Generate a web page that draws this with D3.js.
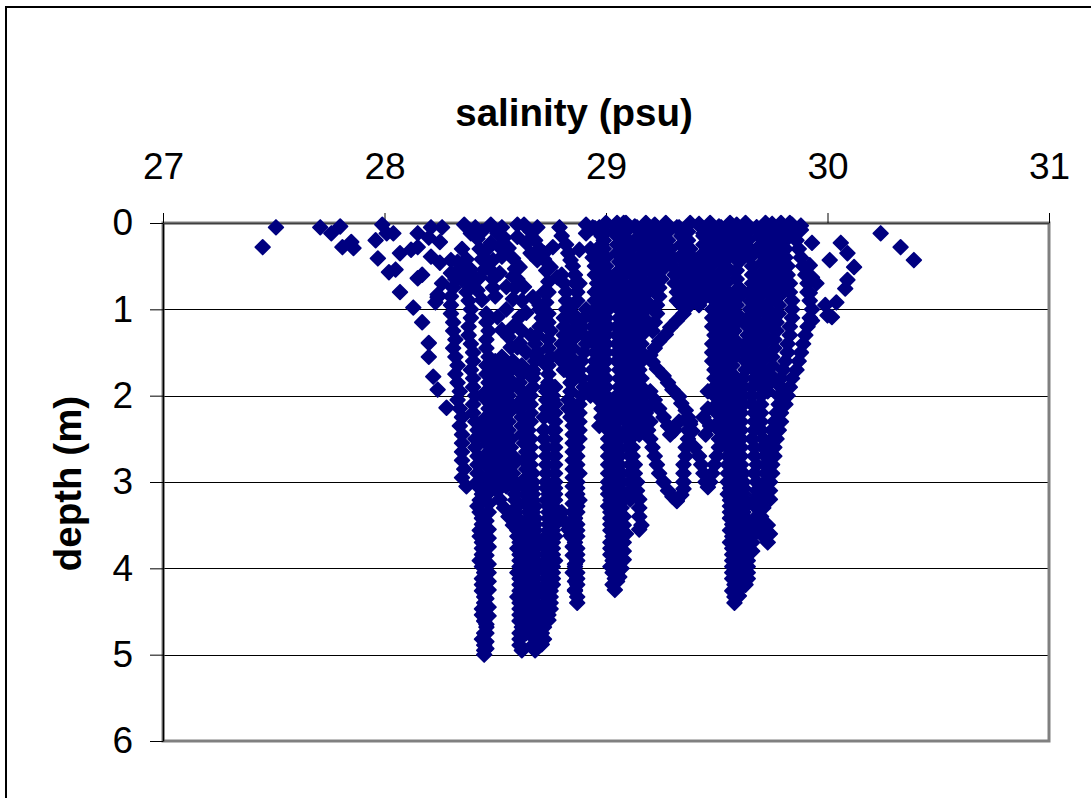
<!DOCTYPE html>
<html><head><meta charset="utf-8">
<script src="https://cdn.jsdelivr.net/npm/d3@7"></script>
<style>html,body{margin:0;padding:0;background:#fff;}svg{display:block;}</style>
</head><body>
<script>
const xTitle = "salinity (psu)";
const yTitle = "depth (m)";
const xTicks = [27, 28, 29, 30, 31];
const yTicks = [0, 1, 2, 3, 4, 5, 6];
const gridDepths = [1, 2, 3, 4, 5];

// [salinity, depth] readings, grouped by profile
const scatterLeft = [[27.45,0.28],[27.51,0.05],[27.71,0.05],[27.76,0.12],[27.80,0.04],[27.81,0.28],[27.85,0.22],[27.86,0.29],[27.96,0.2],[27.97,0.41],[27.99,0.02],[28.01,0.12],[28.04,0.12],[28.07,0.35],[28.02,0.57],[28.05,0.54],[28.07,0.8],[28.12,0.31],[28.15,0.12],[28.15,0.28],[28.15,0.64],[28.17,0.6],[28.13,0.98],[28.17,1.15],[28.20,0.17],[28.21,0.39],[28.2,1.39],[28.2,1.55],[28.22,1.78],[28.24,1.93],[28.28,2.14],[28.24,0.83],[28.23,0.92],[28.21,0.05],[28.26,0.05],[28.25,0.46],[28.3,0.43],[28.25,0.22],[28.36,0.02]];
const scatterMid = [[28.39,0.12],[28.44,0.1],[28.48,0.02],[28.51,0.12],[28.48,0.23],[28.52,0.28],[28.53,0.39],[28.49,0.43],[28.46,0.31],[28.60,0.02],[28.63,0.02],[28.60,0.16],[28.64,0.23],[28.69,0.05],[28.66,0.35],[28.69,0.43],[28.76,0.28],[28.72,0.35],[28.75,0.51],[28.78,0.63],[28.84,0.43],[28.88,0.31],[28.91,0.12],[28.94,0.05],[28.88,0.7],[28.52,0.58],[28.55,0.74],[28.61,0.51],[28.63,0.74],[28.67,0.86],[28.64,1.04],[28.51,1.09],[28.53,1.24],[28.61,1.09],[28.39,0.54],[28.35,0.66],[28.33,0.63],[28.43,0.63],[28.42,0.78],[28.44,0.89],[28.39,0.7],[28.30,0.58],[28.26,0.7],[28.24,0.86],[28.57,1.44],[28.60,1.44],[28.55,1.62],[28.61,1.39],[28.69,1.55],[28.72,1.62],[28.67,1.74],[28.63,2.02],[28.57,1.9],[28.53,2.05],[28.51,2.2],[28.73,1.9],[28.76,2.05],[28.76,2.2],[28.76,2.4],[28.35,0.3],[28.37,0.42],[28.33,0.45],[28.36,0.52],[28.55,1.0],[28.58,1.2],[28.62,1.25],[28.66,1.3],[28.56,1.32],[28.64,1.5],[28.70,0.95],[28.72,0.8],[28.62,0.9],[28.47,0.45],[28.48,0.55],[28.49,0.65],[28.49,0.75],[28.50,0.85],[28.58,0.62],[28.59,0.75],[28.58,0.88]];
const surfaceRow = [[28.91,0.02],[28.95,0.06],[29.05,0.0],[29.13,0.04],[29.22,0.02],[29.32,0.05],[29.42,0.01],[29.51,0.04],[29.59,0.02],[29.68,0.05],[29.75,0.01],[29.88,0.03],[29.86,0.1],[29.04,0.12],[29.24,0.15],[29.44,0.12],[29.6,0.13]];
const scatterRight = [[29.84,0.02],[29.88,0.08],[29.93,0.23],[30.01,0.43],[30.06,0.23],[30.09,0.35],[30.12,0.51],[30.09,0.66],[30.08,0.76],[30.04,0.92],[29.99,0.95],[30.0,1.07],[29.92,0.49],[29.93,0.63],[29.95,0.7],[29.92,0.81],[29.81,0.2],[29.73,0.12],[30.24,0.12],[30.33,0.28],[30.39,0.43],[29.93,1.13],[30.02,1.09]];
const castL1 = [[28.41,0.05],[28.42,0.18],[28.43,0.3],[28.44,0.42],[28.45,0.54]];
const castL2 = [[28.53,0.05],[28.54,0.17],[28.56,0.29],[28.58,0.41],[28.59,0.53],[28.60,0.65]];
const castL3 = [[28.66,0.1],[28.68,0.2],[28.70,0.3],[28.72,0.42],[28.73,0.55],[28.74,0.68],[28.74,0.8],[28.73,0.92]];
const castL4 = [[28.79,0.05],[28.80,0.15],[28.82,0.25],[28.83,0.35],[28.85,0.5],[28.86,0.6],[28.86,0.7],[28.87,0.8],[28.87,0.9]];
const castB1 = [[28.33,0.55],[28.32,0.65],[28.31,0.75],[28.30,0.85],[28.30,0.95],[28.30,1.05],[28.31,1.15],[28.31,1.25],[28.32,1.35],[28.31,1.45],[28.32,1.55],[28.33,1.65],[28.32,1.75],[28.33,1.85],[28.34,1.95],[28.33,2.05],[28.34,2.15],[28.35,2.25],[28.34,2.35],[28.35,2.45],[28.35,2.55],[28.35,2.65],[28.35,2.75],[28.36,2.85],[28.35,2.95],[28.37,3.05]];
const castB2 = [[28.39,0.6],[28.38,0.7],[28.37,0.8],[28.38,0.9],[28.39,1.0],[28.39,1.1],[28.38,1.2],[28.38,1.3],[28.39,1.4],[28.40,1.5],[28.40,1.6],[28.39,1.7],[28.40,1.8],[28.40,1.9],[28.41,2.0],[28.40,2.1],[28.40,2.2],[28.41,2.3],[28.42,2.4],[28.41,2.5],[28.41,2.6],[28.42,2.7],[28.42,2.8],[28.42,2.9],[28.42,3.0],[28.43,3.07],[28.44,3.14],[28.43,3.21],[28.42,3.28],[28.43,3.35],[28.44,3.42],[28.44,3.49],[28.43,3.56],[28.43,3.63],[28.44,3.7],[28.44,3.77],[28.44,3.84],[28.43,3.91],[28.44,3.98],[28.45,4.05],[28.44,4.12],[28.44,4.19],[28.44,4.26],[28.45,4.33],[28.45,4.4],[28.44,4.47],[28.44,4.54],[28.45,4.61],[28.46,4.68],[28.45,4.75],[28.44,4.82],[28.45,4.89],[28.45,4.95],[28.45,5.0]];
const castB3 = [[28.46,2.55],[28.47,2.65],[28.46,2.75],[28.47,2.85],[28.47,2.95],[28.47,3.05],[28.46,3.15],[28.47,3.25],[28.47,3.35],[28.46,3.45],[28.47,3.55],[28.47,3.65],[28.47,3.75],[28.46,3.85],[28.47,3.95],[28.47,4.05],[28.47,4.15],[28.47,4.25],[28.46,4.35],[28.47,4.45],[28.47,4.55],[28.46,4.65],[28.46,4.75],[28.46,4.85],[28.46,4.93]];
const castN1 = [[28.46,1.05],[28.46,1.15],[28.47,1.25],[28.46,1.35],[28.46,1.45],[28.47,1.55],[28.46,1.65],[28.46,1.75],[28.47,1.85],[28.46,1.95],[28.46,2.05],[28.47,2.15],[28.46,2.25],[28.46,2.35],[28.46,2.45]];
const castC = [[28.50,1.6],[28.49,1.7],[28.50,1.8],[28.51,1.9],[28.50,2.0],[28.51,2.1]];
const castD = [[28.51,2.2],[28.50,2.3],[28.50,2.4],[28.49,2.5],[28.49,2.6],[28.49,2.7],[28.49,2.8],[28.49,2.9],[28.50,3.0],[28.51,3.1],[28.52,3.2],[28.54,3.3],[28.56,3.4],[28.58,3.5]];
const castN2 = [[28.53,1.55],[28.54,1.65],[28.53,1.75],[28.53,1.85],[28.54,1.95],[28.53,2.05],[28.53,2.15],[28.54,2.25],[28.53,2.35],[28.53,2.45],[28.54,2.55],[28.53,2.65],[28.53,2.75],[28.54,2.85],[28.54,2.95],[28.55,3.05]];
const castE1 = [[28.58,1.6],[28.57,1.7],[28.56,1.8],[28.56,1.9],[28.56,2.0],[28.57,2.1],[28.56,2.2],[28.56,2.3],[28.56,2.4],[28.57,2.5],[28.57,2.6],[28.58,2.7],[28.58,2.8],[28.58,2.9],[28.59,3.0],[28.59,3.07],[28.59,3.14],[28.59,3.21],[28.60,3.28],[28.59,3.35],[28.60,3.42],[28.60,3.49],[28.60,3.56],[28.60,3.63],[28.61,3.7],[28.60,3.77],[28.61,3.84],[28.61,3.91],[28.61,3.98],[28.60,4.05],[28.61,4.12],[28.61,4.19],[28.61,4.26],[28.60,4.33],[28.61,4.4],[28.61,4.47],[28.61,4.54],[28.61,4.61],[28.62,4.68],[28.61,4.75],[28.61,4.82],[28.61,4.89],[28.62,4.95]];
const castN4 = [[28.62,1.65],[28.62,1.75],[28.61,1.85],[28.62,1.95],[28.62,2.05],[28.61,2.15],[28.62,2.25],[28.62,2.35],[28.62,2.45]];
const castE5 = [[28.63,2.55],[28.64,2.65],[28.63,2.75],[28.64,2.85],[28.64,2.95],[28.63,3.05],[28.64,3.15],[28.64,3.25],[28.65,3.35],[28.64,3.45],[28.64,3.55],[28.65,3.65],[28.64,3.75],[28.64,3.85],[28.65,3.95],[28.64,4.05],[28.64,4.15],[28.65,4.25],[28.64,4.35],[28.64,4.45],[28.65,4.55],[28.64,4.65],[28.64,4.75]];
const castE2 = [[28.70,1.0],[28.71,1.1],[28.70,1.2],[28.69,1.3],[28.68,1.4],[28.69,1.5],[28.68,1.6],[28.67,1.7],[28.67,1.8],[28.67,1.9],[28.66,2.0],[28.66,2.1],[28.66,2.2],[28.66,2.3],[28.65,2.4],[28.66,2.5],[28.66,2.6],[28.66,2.7],[28.66,2.8],[28.67,2.9],[28.67,3.0],[28.67,3.07],[28.67,3.14],[28.67,3.21],[28.68,3.28],[28.67,3.35],[28.68,3.42],[28.68,3.49],[28.68,3.56],[28.68,3.63],[28.69,3.7],[28.68,3.77],[28.68,3.84],[28.68,3.91],[28.69,3.98],[28.68,4.05],[28.68,4.12],[28.68,4.19],[28.69,4.26],[28.68,4.33],[28.68,4.4],[28.68,4.47],[28.68,4.54],[28.67,4.61],[28.68,4.68],[28.68,4.75],[28.68,4.82],[28.67,4.89],[28.68,4.95]];
const castN3 = [[28.74,1.05],[28.74,1.15],[28.75,1.25],[28.74,1.35],[28.74,1.45],[28.75,1.55],[28.74,1.65],[28.74,1.75],[28.74,1.85],[28.73,1.95],[28.73,2.05],[28.73,2.15],[28.72,2.25]];
const castE3 = [[28.72,2.4],[28.72,2.5],[28.73,2.6],[28.73,2.7],[28.73,2.8],[28.73,2.9],[28.73,3.0],[28.73,3.07],[28.74,3.14],[28.73,3.21],[28.74,3.28],[28.74,3.35],[28.74,3.42],[28.74,3.49],[28.74,3.56],[28.73,3.63],[28.74,3.7],[28.73,3.77],[28.73,3.84],[28.73,3.91],[28.73,3.98],[28.73,4.05],[28.73,4.12],[28.73,4.19],[28.73,4.26],[28.73,4.33],[28.73,4.4],[28.72,4.47],[28.72,4.54],[28.72,4.61],[28.72,4.68],[28.71,4.75],[28.72,4.82],[28.71,4.88]];
const castE4 = [[28.77,1.9],[28.76,2.0],[28.77,2.1],[28.77,2.2],[28.77,2.3],[28.77,2.4],[28.77,2.5],[28.77,2.6],[28.77,2.7],[28.77,2.8],[28.77,2.9],[28.77,3.0],[28.77,3.07],[28.77,3.14],[28.77,3.21],[28.76,3.28],[28.77,3.35],[28.77,3.42],[28.77,3.49],[28.76,3.56],[28.77,3.63],[28.76,3.7],[28.76,3.77],[28.76,3.84],[28.77,3.91],[28.76,3.98],[28.76,4.05],[28.76,4.12],[28.76,4.19],[28.75,4.26],[28.75,4.33],[28.75,4.4],[28.75,4.47],[28.74,4.54],[28.74,4.6]];
const castG1 = [[28.91,1.0],[28.90,1.1],[28.89,1.2],[28.90,1.3],[28.91,1.4],[28.90,1.5],[28.89,1.6],[28.88,1.7],[28.89,1.8],[28.90,1.9],[28.89,2.0],[28.88,2.1],[28.88,2.2],[28.88,2.3],[28.88,2.4],[28.88,2.5],[28.87,2.6],[28.87,2.7],[28.87,2.8],[28.88,2.9],[28.87,3.0],[28.87,3.07],[28.87,3.14],[28.88,3.21],[28.87,3.28],[28.87,3.35],[28.86,3.42],[28.87,3.49],[28.87,3.56],[28.87,3.63],[28.86,3.7],[28.87,3.77],[28.87,3.84],[28.87,3.91],[28.86,3.98],[28.87,4.05],[28.87,4.12],[28.87,4.19],[28.86,4.26],[28.87,4.33],[28.87,4.4]];
const castG3 = [[28.85,2.35],[28.85,2.45],[28.85,2.55],[28.85,2.65],[28.85,2.75],[28.85,2.85],[28.85,2.95],[28.85,3.05],[28.85,3.15],[28.85,3.25],[28.85,3.35],[28.85,3.45],[28.85,3.55],[28.85,3.65],[28.85,3.75],[28.85,3.85],[28.86,3.95],[28.85,4.05],[28.86,4.15],[28.86,4.25]];
const castG2 = [[28.80,3.35],[28.81,3.45],[28.83,3.55],[28.84,3.62]];
const castK1 = [[28.93,0.3],[28.94,0.4],[28.95,0.5],[28.95,0.6],[28.96,0.7],[28.95,0.8],[28.95,0.9],[28.95,1.0],[28.94,1.1],[28.94,1.2],[28.94,1.3],[28.95,1.4],[28.95,1.5],[28.95,1.6],[28.94,1.7],[28.94,1.8],[28.93,1.9],[28.93,2.0]];
const castK4 = [[28.97,0.05],[28.98,0.15],[28.98,0.25],[28.97,0.35],[28.98,0.45],[28.98,0.55],[28.97,0.65],[28.97,0.75],[28.98,0.85],[28.98,0.95],[28.97,1.05],[28.97,1.15],[28.98,1.25],[28.98,1.35],[28.97,1.45],[28.97,1.55],[28.97,1.65],[28.98,1.75],[28.97,1.85],[28.97,1.95],[28.97,2.05],[28.98,2.15],[28.98,2.25],[28.97,2.35]];
const castK2 = [[28.80,0.6],[28.81,0.7],[28.82,0.8],[28.82,0.9],[28.82,1.0],[28.81,1.1],[28.81,1.2],[28.81,1.3],[28.80,1.4],[28.80,1.5],[28.80,1.6],[28.81,1.7]];
const castK3 = [[28.85,0.95],[28.85,1.05],[28.86,1.15],[28.86,1.25],[28.85,1.35],[28.85,1.45],[28.84,1.55],[28.84,1.65],[28.84,1.75],[28.84,1.85],[28.84,1.95],[28.83,2.05],[28.83,2.15],[28.84,2.25]];
const castH1 = [[29.00,0.0],[28.99,0.1],[28.99,0.2],[28.99,0.3],[29.00,0.4],[29.00,0.5],[29.01,0.6],[29.00,0.7],[29.01,0.8],[29.01,0.9],[29.01,1.0],[29.00,1.1],[29.01,1.2],[29.00,1.3],[29.00,1.4],[29.00,1.5],[29.00,1.6],[28.99,1.7],[29.00,1.8],[29.00,1.9],[29.00,2.0],[29.00,2.1],[29.01,2.2],[29.00,2.3],[29.01,2.4],[29.01,2.5],[29.01,2.6],[29.01,2.7],[29.01,2.8],[29.01,2.9],[29.01,3.0],[29.01,3.07],[29.01,3.14],[29.02,3.21],[29.01,3.28],[29.02,3.35],[29.02,3.42],[29.02,3.49],[29.02,3.56],[29.03,3.63],[29.02,3.7],[29.02,3.77],[29.02,3.84],[29.03,3.91],[29.02,3.98],[29.03,4.05],[29.04,4.12],[29.03,4.19],[29.04,4.25]];
const castH5 = [[29.04,0.05],[29.05,0.15],[29.05,0.25],[29.05,0.35],[29.06,0.45],[29.06,0.55],[29.05,0.65],[29.05,0.75],[29.05,0.85],[29.04,0.95]];
const castH4 = [[29.03,2.05],[29.04,2.15],[29.04,2.25],[29.03,2.35],[29.04,2.45],[29.04,2.55],[29.05,2.65],[29.04,2.75],[29.04,2.85],[29.05,2.95],[29.05,3.05],[29.04,3.15],[29.05,3.25],[29.05,3.35],[29.05,3.45],[29.05,3.55],[29.06,3.65],[29.05,3.75],[29.05,3.85],[29.05,3.95],[29.05,4.05],[29.05,4.15]];
const castH7 = [[29.08,0.0],[29.07,0.1],[29.08,0.2],[29.08,0.3],[29.08,0.4],[29.09,0.5],[29.08,0.6],[29.08,0.7],[29.07,0.8],[29.08,0.9],[29.08,1.0],[29.07,1.1],[29.08,1.2],[29.08,1.3],[29.07,1.4],[29.07,1.5],[29.08,1.6],[29.08,1.7],[29.07,1.8],[29.07,1.9],[29.08,2.0],[29.08,2.1],[29.08,2.2],[29.09,2.3],[29.09,2.4],[29.10,2.5],[29.10,2.6],[29.11,2.7],[29.11,2.8],[29.11,2.9],[29.11,3.0],[29.11,3.1],[29.11,3.2]];
const castH2 = [[29.09,0.0],[29.09,0.1],[29.10,0.2],[29.11,0.3],[29.11,0.4],[29.12,0.5],[29.12,0.6],[29.12,0.7],[29.11,0.8],[29.11,0.9],[29.10,1.0],[29.10,1.1],[29.10,1.2],[29.09,1.3],[29.09,1.4],[29.09,1.5],[29.09,1.6],[29.09,1.7],[29.09,1.8],[29.09,1.9],[29.09,2.0],[29.09,2.1],[29.10,2.2],[29.10,2.3],[29.11,2.4],[29.11,2.5],[29.12,2.6],[29.12,2.7],[29.13,2.8],[29.13,2.9],[29.14,3.0],[29.14,3.1],[29.15,3.2],[29.15,3.3],[29.15,3.4],[29.16,3.5],[29.15,3.55]];
const castH3 = [[29.06,1.0],[29.06,1.1],[29.05,1.2],[29.05,1.3],[29.05,1.4],[29.05,1.5],[29.05,1.6],[29.06,1.7],[29.06,1.8],[29.06,1.9],[29.05,2.0],[29.05,2.1],[29.05,2.2],[29.05,2.3],[29.05,2.4],[29.06,2.5],[29.06,2.6],[29.06,2.7],[29.06,2.8],[29.07,2.9],[29.07,3.0],[29.07,3.1],[29.08,3.2],[29.07,3.3],[29.08,3.4],[29.08,3.5],[29.09,3.6],[29.08,3.7],[29.08,3.8],[29.08,3.9],[29.07,4.0],[29.06,4.1]];
const castH6 = [[29.14,0.05],[29.15,0.15],[29.15,0.25],[29.16,0.35],[29.16,0.45],[29.17,0.55],[29.16,0.65],[29.16,0.75],[29.15,0.85],[29.14,0.95],[29.14,1.05],[29.13,1.15],[29.13,1.25],[29.12,1.35],[29.12,1.45],[29.12,1.55],[29.12,1.65],[29.12,1.75],[29.12,1.85],[29.13,1.95],[29.13,2.05],[29.13,2.15],[29.14,2.25],[29.14,2.35],[29.15,2.45]];
const castU = [[29.18,0.0],[29.19,0.1],[29.19,0.2],[29.20,0.3],[29.21,0.4],[29.21,0.5],[29.21,0.6],[29.20,0.7],[29.19,0.8],[29.18,0.9],[29.18,1.0],[29.17,1.1],[29.17,1.2],[29.16,1.3],[29.16,1.4],[29.16,1.5],[29.16,1.6],[29.15,1.7],[29.16,1.8],[29.16,1.9],[29.17,2.0],[29.17,2.1],[29.18,2.2],[29.18,2.3],[29.19,2.4],[29.20,2.5],[29.21,2.6],[29.22,2.7],[29.23,2.8],[29.24,2.9],[29.26,3.0],[29.28,3.1],[29.30,3.17],[29.32,3.22],[29.34,3.15],[29.35,3.08],[29.35,3.0],[29.35,2.9],[29.35,2.8],[29.36,2.7],[29.36,2.6],[29.37,2.5],[29.37,2.4],[29.38,2.3]];
const castU2 = [[29.22,2.05],[29.24,2.15],[29.26,2.25],[29.28,2.35],[29.29,2.45],[29.31,2.4],[29.33,2.3],[29.20,1.95],[29.19,2.15],[29.20,2.3]];
const castJ1 = [[29.38,0.0],[29.37,0.1],[29.37,0.2],[29.38,0.3],[29.39,0.4],[29.40,0.5],[29.40,0.6],[29.40,0.7],[29.39,0.8],[29.38,0.9],[29.37,0.97],[29.35,1.05],[29.32,1.13],[29.29,1.21],[29.27,1.29],[29.24,1.37],[29.22,1.45],[29.20,1.53],[29.21,1.61],[29.23,1.69],[29.26,1.77],[29.28,1.85],[29.30,1.93],[29.33,2.01],[29.34,2.09],[29.36,2.17],[29.37,2.25],[29.38,2.33],[29.39,2.41]];
const castJ2 = [[29.47,0.0],[29.48,0.1],[29.48,0.2],[29.48,0.3],[29.47,0.4],[29.47,0.5],[29.47,0.6],[29.48,0.7],[29.48,0.8],[29.49,0.9],[29.48,1.0],[29.48,1.1],[29.48,1.2],[29.49,1.3],[29.48,1.4],[29.48,1.5],[29.48,1.6],[29.49,1.7],[29.49,1.8],[29.49,1.9],[29.49,2.0],[29.50,2.1],[29.50,2.2],[29.51,2.3],[29.51,2.4],[29.51,2.5]];
const castJ8 = [[29.52,0.05],[29.52,0.15],[29.51,0.25],[29.51,0.35],[29.52,0.45],[29.52,0.55],[29.51,0.65],[29.51,0.75],[29.52,0.85],[29.52,0.95],[29.51,1.05],[29.52,1.15],[29.52,1.25],[29.51,1.35],[29.51,1.45],[29.52,1.55],[29.52,1.65],[29.51,1.75],[29.52,1.85],[29.52,1.95],[29.52,2.05],[29.53,2.15],[29.53,2.25],[29.53,2.35],[29.53,2.45],[29.53,2.55]];
const castJ9 = [[29.46,0.05],[29.46,0.25],[29.46,0.45],[29.46,0.65],[29.45,0.85],[29.46,1.95],[29.46,2.15],[29.47,2.35],[29.44,2.25],[29.45,2.45]];
const castJ4 = [[29.27,0.0],[29.28,0.1],[29.28,0.2],[29.29,0.3],[29.30,0.4],[29.30,0.5],[29.31,0.6],[29.31,0.7],[29.32,0.8],[29.32,0.9]];
const castJ5 = [[29.43,0.05],[29.44,0.15],[29.44,0.25],[29.44,0.35],[29.43,0.45],[29.44,0.55],[29.44,0.65],[29.43,0.75],[29.43,0.85],[29.42,0.95]];
const castJ6 = [[29.23,0.05],[29.24,0.15],[29.24,0.25],[29.25,0.35],[29.25,0.45],[29.25,0.55],[29.25,0.65],[29.24,0.75],[29.24,0.85],[29.23,0.95],[29.23,1.05],[29.22,1.15],[29.21,1.25]];
const castJ7 = [[29.33,0.05],[29.34,0.15],[29.34,0.25],[29.35,0.35],[29.35,0.45],[29.35,0.55],[29.36,0.65],[29.35,0.75],[29.35,0.85],[29.34,0.95]];
const castV = [[29.40,2.6],[29.42,2.7],[29.43,2.8],[29.44,2.9],[29.45,3.0],[29.46,3.06],[29.47,3.0],[29.48,2.9],[29.49,2.8],[29.50,2.7],[29.51,2.6]];
const castI1 = [[29.56,0.0],[29.56,0.1],[29.55,0.2],[29.55,0.3],[29.55,0.4],[29.54,0.5],[29.54,0.6],[29.54,0.7],[29.55,0.8],[29.55,0.9],[29.55,1.0],[29.55,1.1],[29.55,1.2],[29.55,1.3],[29.54,1.4],[29.54,1.5],[29.54,1.6],[29.53,1.7],[29.53,1.8],[29.54,1.9],[29.54,2.0],[29.54,2.1],[29.54,2.2],[29.54,2.3],[29.54,2.4],[29.55,2.5],[29.55,2.6],[29.55,2.7],[29.55,2.8],[29.55,2.9],[29.55,3.0],[29.56,3.07],[29.55,3.14],[29.56,3.21],[29.56,3.28],[29.56,3.35],[29.56,3.42],[29.57,3.49],[29.56,3.56],[29.57,3.63],[29.56,3.7],[29.57,3.77],[29.57,3.84],[29.57,3.91],[29.57,3.98],[29.57,4.05],[29.57,4.12],[29.58,4.19],[29.57,4.26],[29.58,4.33],[29.58,4.4]];
const castI7 = [[29.59,0.05],[29.59,0.15],[29.60,0.25],[29.60,0.35],[29.60,0.45],[29.59,0.55],[29.59,0.65],[29.60,0.75],[29.60,0.85],[29.59,0.95],[29.59,1.05],[29.59,1.15],[29.58,1.25],[29.58,1.35],[29.58,1.45],[29.58,1.55],[29.57,1.65],[29.57,1.75],[29.58,1.85],[29.58,1.95],[29.58,2.05],[29.58,2.15],[29.58,2.25],[29.58,2.35],[29.58,2.45],[29.59,2.55],[29.59,2.65],[29.59,2.75],[29.59,2.85],[29.59,2.95],[29.59,3.05],[29.60,3.15],[29.60,3.25],[29.60,3.35],[29.60,3.45],[29.60,3.55],[29.60,3.65],[29.60,3.75],[29.60,3.85],[29.60,3.95],[29.60,4.05],[29.61,4.15],[29.60,4.25],[29.60,4.32]];
const castI2 = [[29.63,0.0],[29.64,0.1],[29.64,0.2],[29.65,0.3],[29.65,0.4],[29.66,0.5],[29.66,0.6],[29.66,0.7],[29.65,0.8],[29.65,0.9],[29.65,1.0],[29.64,1.1],[29.64,1.2],[29.64,1.3],[29.63,1.4],[29.63,1.5],[29.63,1.6],[29.63,1.7],[29.62,1.8],[29.62,1.9],[29.62,2.0],[29.62,2.1],[29.61,2.2],[29.61,2.3],[29.61,2.4],[29.61,2.5],[29.61,2.6],[29.61,2.7],[29.61,2.8],[29.62,2.9],[29.62,3.0],[29.62,3.07],[29.62,3.14],[29.62,3.21],[29.63,3.28],[29.62,3.35],[29.63,3.42],[29.63,3.49],[29.63,3.56],[29.63,3.63],[29.64,3.7],[29.63,3.77],[29.64,3.84],[29.64,3.91],[29.64,3.98],[29.64,4.05],[29.64,4.12],[29.63,4.19]];
const castI6 = [[29.67,1.5],[29.66,1.6],[29.67,1.7],[29.67,1.8],[29.66,1.9],[29.66,2.0],[29.66,2.1],[29.67,2.2],[29.67,2.3],[29.67,2.4],[29.66,2.5],[29.67,2.6],[29.67,2.7],[29.68,2.8],[29.67,2.9],[29.68,3.0],[29.68,3.1],[29.67,3.2],[29.68,3.3],[29.68,3.4],[29.67,3.5],[29.67,3.6],[29.66,3.7],[29.66,3.8]];
const castI8 = [[29.68,0.05],[29.69,0.15],[29.70,0.25],[29.70,0.35],[29.71,0.45],[29.71,0.55],[29.70,0.65],[29.70,0.75],[29.69,0.85],[29.69,0.95],[29.68,1.05],[29.68,1.15],[29.68,1.25],[29.67,1.35],[29.67,1.45]];
const castI3 = [[29.72,0.0],[29.73,0.1],[29.74,0.2],[29.74,0.3],[29.75,0.4],[29.75,0.5],[29.75,0.6],[29.74,0.7],[29.74,0.8],[29.74,0.9],[29.73,1.0],[29.73,1.1],[29.72,1.2],[29.72,1.3],[29.71,1.4],[29.71,1.5],[29.70,1.6],[29.70,1.7],[29.70,1.8],[29.70,1.9],[29.70,2.0],[29.70,2.1],[29.70,2.2],[29.70,2.3],[29.70,2.4],[29.71,2.5],[29.71,2.6],[29.72,2.7],[29.72,2.8],[29.72,2.9],[29.72,3.0],[29.71,3.1],[29.71,3.2],[29.71,3.3],[29.70,3.4],[29.70,3.5],[29.70,3.6],[29.73,3.5],[29.74,3.6],[29.73,3.7]];
const castI9 = [[29.76,0.05],[29.77,0.15],[29.78,0.25],[29.78,0.35],[29.79,0.45],[29.79,0.55],[29.79,0.65],[29.79,0.75],[29.78,0.85],[29.78,0.95],[29.78,1.05],[29.77,1.15],[29.77,1.25],[29.76,1.35],[29.76,1.45],[29.75,1.55],[29.75,1.65],[29.74,1.75],[29.74,1.85],[29.73,1.95]];
const castI4 = [[29.83,0.0],[29.84,0.1],[29.86,0.2],[29.87,0.3],[29.88,0.4],[29.89,0.5],[29.90,0.6],[29.91,0.7],[29.91,0.8],[29.92,0.9],[29.93,1.0],[29.92,1.1],[29.91,1.2],[29.90,1.3],[29.89,1.4],[29.88,1.5],[29.87,1.6],[29.86,1.7],[29.84,1.8],[29.83,1.9],[29.82,2.0],[29.81,2.1],[29.79,2.2],[29.79,2.3],[29.78,2.4],[29.77,2.5],[29.76,2.6],[29.76,2.7],[29.75,2.8],[29.75,2.9],[29.74,3.0],[29.74,3.1],[29.74,3.2]];
const castI5 = [[29.79,0.0],[29.80,0.1],[29.80,0.2],[29.81,0.3],[29.81,0.4],[29.82,0.5],[29.82,0.6],[29.83,0.7],[29.83,0.8],[29.84,0.9],[29.84,1.0],[29.84,1.1],[29.83,1.2],[29.83,1.3],[29.82,1.4],[29.82,1.5],[29.81,1.6],[29.80,1.7],[29.79,1.8],[29.79,1.9],[29.78,2.0],[29.78,2.1],[29.77,2.2],[29.76,2.3],[29.75,2.4],[29.75,2.5],[29.74,2.6]];

const series = [scatterLeft, scatterMid, surfaceRow, scatterRight, castL1, castL2, castL3, castL4, castB1, castB2, castB3, castN1, castC, castD, castN2, castE1, castN4, castE5, castE2, castN3, castE3, castE4, castG1, castG3, castG2, castK1, castK4, castK2, castK3, castH1, castH5, castH4, castH7, castH2, castH3, castH6, castU, castU2, castJ1, castJ2, castJ8, castJ9, castJ4, castJ5, castJ6, castJ7, castV, castI1, castI7, castI2, castI6, castI8, castI3, castI9, castI4, castI5];

const W = 1091, H = 798;
const plot = {left: 163, right: 1049, top: 223, bottom: 741};
const FONT = "'Liberation Sans', Arial, Helvetica, sans-serif";
const navy = "#000080";

const svg = d3.select("body").append("svg").attr("width", W).attr("height", H);
svg.append("rect").attr("width", W).attr("height", H).attr("fill", "#fff");
svg.append("rect").attr("x", 6).attr("y", 7).attr("width", W + 20).attr("height", H + 20)
  .attr("fill", "none").attr("stroke", "#000").attr("stroke-width", 2);

const x = d3.scaleLinear().domain([27, 31]).range([plot.left, plot.right]);
const y = d3.scaleLinear().domain([0, 6]).range([plot.top, plot.bottom]);

svg.append("g").selectAll("line").data(gridDepths).join("line")
  .attr("x1", plot.left).attr("x2", plot.right)
  .attr("y1", d => Math.round(y(d)) + 0.5).attr("y2", d => Math.round(y(d)) + 0.5)
  .attr("stroke", "#000").attr("stroke-width", 1);

svg.append("rect").attr("x", plot.left).attr("y", plot.top)
  .attr("width", plot.right - plot.left).attr("height", plot.bottom - plot.top)
  .attr("fill", "none").attr("stroke", "#808080").attr("stroke-width", 3);

const xAxis = d3.axisTop(x).tickValues(xTicks).tickFormat(d3.format("d")).tickSizeInner(10).tickSizeOuter(0).tickPadding(34);
const gx = svg.append("g").attr("transform", `translate(0,${plot.top})`).call(xAxis);
gx.select(".domain").attr("stroke", "#404040").attr("stroke-width", 1.5);
gx.selectAll(".tick line").attr("stroke", "#000");
gx.selectAll(".tick text").attr("font-family", FONT).attr("font-size", 37).attr("fill", "#000");

const yAxis = d3.axisLeft(y).tickValues(yTicks).tickFormat(d3.format("d")).tickSizeInner(13).tickSizeOuter(0).tickPadding(17);
const gy = svg.append("g").attr("transform", `translate(${plot.left},0)`).call(yAxis);
gy.select(".domain").attr("stroke", "#000").attr("stroke-width", 1.5);
gy.selectAll(".tick line").attr("stroke", "#000");
gy.selectAll(".tick text").attr("font-family", FONT).attr("font-size", 37).attr("fill", "#000");

const pts = series.flat();
const s = 7.3;
svg.append("g").selectAll("path").data(pts).join("path")
  .attr("transform", d => `translate(${x(d[0])},${y(d[1])})`)
  .attr("d", `M0,${-s}L${s},0L0,${s}L${-s},0Z`)
  .attr("fill", navy).attr("stroke", navy).attr("stroke-width", 1.8).attr("stroke-linejoin", "round");

svg.append("text").attr("x", 574).attr("y", 126).attr("text-anchor", "middle")
  .attr("font-family", FONT).attr("font-size", 38.5).attr("font-weight", "bold").text(xTitle);
svg.append("text").attr("transform", "translate(81,483.5) rotate(-90)").attr("text-anchor", "middle")
  .attr("font-family", FONT).attr("font-size", 38.5).attr("font-weight", "bold").text(yTitle);
</script>
</body></html>
